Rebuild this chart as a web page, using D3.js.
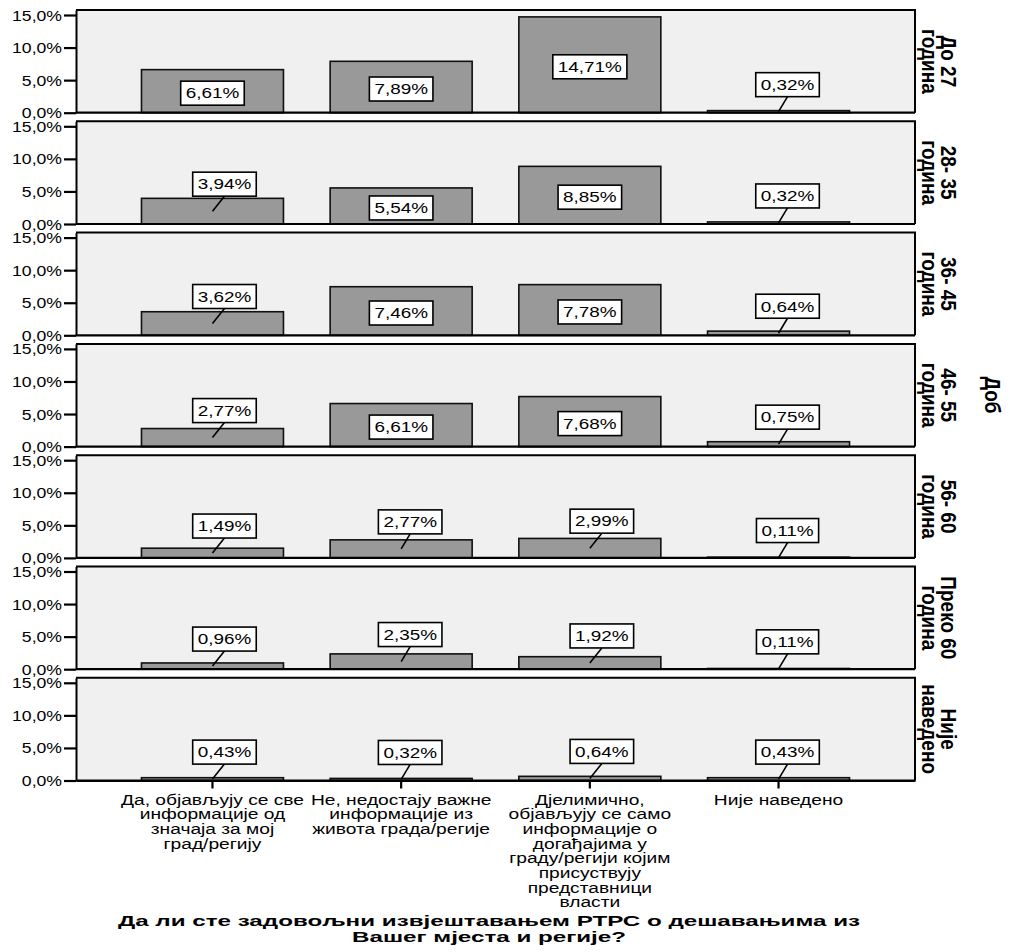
<!DOCTYPE html>
<html>
<head>
<meta charset="utf-8">
<script src="https://cdn.jsdelivr.net/npm/d3@7"></script>
<style>
  html, body { margin: 0; padding: 0; background: #ffffff; }
  svg { display: block; font-family: "Liberation Sans", Arial, sans-serif; }
</style>
</head>
<body>
<svg id="chart" width="1010" height="952"></svg>
<script>
// Response categories (x axis), one array of text lines per category
const categories = [
  "Да, објављују се све",
  "Не, недостају важне",
  "Дјелимично",
  "Није наведено"
];
const categoryLines = [
  ["Да, објављују се све", "информације од", "значаја за мој", "град/регију"],
  ["Не, недостају важне", "информације из", "живота града/регије"],
  ["Дјелимично,", "објављују се само", "информације о", "догађајима у", "граду/регији којим", "присуствују", "представници", "власти"],
  ["Није наведено"]
];

// Age groups (row panels) and their strip labels
const ageGroups = ["До 27 година", "28- 35 година", "36- 45 година", "46- 55 година", "56- 60 година", "Преко 60 година", "Није наведено"];
const ageLines = [
  ["До 27", "година"],
  ["28- 35", "година"],
  ["36- 45", "година"],
  ["46- 55", "година"],
  ["56- 60", "година"],
  ["Преко 60", "година"],
  ["Није", "наведено"]
];

// Percent of all respondents, per age group, in category order
const valuesUpTo27   = [6.61, 7.89, 14.71, 0.32];
const values28to35   = [3.94, 5.54, 8.85, 0.32];
const values36to45   = [3.62, 7.46, 7.78, 0.64];
const values46to55   = [2.77, 6.61, 7.68, 0.75];
const values56to60   = [1.49, 2.77, 2.99, 0.11];
const valuesOver60   = [0.96, 2.35, 1.92, 0.11];
const valuesNotGiven = [0.43, 0.32, 0.64, 0.43];
const panelValues = [valuesUpTo27, values28to35, values36to45, values46to55, values56to60, valuesOver60, valuesNotGiven];

const yTicks = [0, 5, 10, 15];
const titleLines = ["Да ли сте задовољни извјештавањем РТРС о дешавањима из", "Вашег мјеста и регије?"];
const facetTitle = "Доб";

// ---- layout ----
const left = 76, right = 915;
const firstTop = 10, panelH = 102.7, panelStep = 111.3;
const SX = 1.26;           // horizontal glyph stretch used for text
const comma = s => s.replace(".", ",");
const fmtVal = v => comma(d3.format(".2f")(v)) + "%";
const fmtTick = v => comma(d3.format(".1f")(v)) + "%";

const svg = d3.select("#chart");

const x = d3.scaleBand()
  .domain(categories)
  .range([left, right])
  .paddingInner(0.2475)
  .paddingOuter(0.347);

// stretched text helper
function stext(parent, px, py, str, opt) {
  const o = Object.assign({ size: 14, weight: "normal", anchor: "middle", sx: SX, rotate: 0 }, opt || {});
  const g = parent.append("g")
    .attr("transform", `translate(${px},${py}) scale(${o.sx},1)` + (o.rotate ? ` rotate(${o.rotate})` : ""));
  return g.append("text")
    .attr("text-anchor", o.anchor)
    .attr("font-size", o.size)
    .attr("font-weight", o.weight)
    .attr("fill", "#000")
    .text(str);
}

panelValues.forEach((vals, i) => {
  const top = firstTop + i * panelStep;
  const bottom = top + panelH;
  const y = d3.scaleLinear().domain([0, 15 * panelH / (panelH - 5)]).range([bottom, top]);
  const g = svg.append("g").attr("class", "panel");

  // panel background
  g.append("rect")
    .attr("x", left).attr("y", top)
    .attr("width", right - left).attr("height", bottom - top)
    .attr("fill", "#f0f0f0");

  // bars
  g.selectAll("rect.bar")
    .data(vals)
    .join("rect")
    .attr("class", "bar")
    .attr("x", (d, j) => x(categories[j]))
    .attr("y", d => y(d))
    .attr("width", x.bandwidth())
    .attr("height", d => y(0) - y(d))
    .attr("fill", "#999999")
    .attr("stroke", "#111")
    .attr("stroke-width", 1.6);

  // frame: top and right edges, baseline
  g.append("path")
    .attr("d", `M${left},${top}H${right}V${bottom}`)
    .attr("fill", "none").attr("stroke", "#000").attr("stroke-width", 2);
  g.append("line")
    .attr("x1", left).attr("x2", right).attr("y1", bottom).attr("y2", bottom)
    .attr("stroke", "#000").attr("stroke-width", 2.2);

  // y axis
  const ya = g.append("g")
    .attr("transform", `translate(${left},0)`)
    .call(d3.axisLeft(y).tickValues(yTicks).tickFormat(fmtTick).tickSize(12).tickSizeOuter(0));
  ya.select(".domain").attr("stroke", "#000").attr("stroke-width", 2);
  ya.selectAll(".tick line").attr("stroke", "#000").attr("stroke-width", 2.2);
  ya.selectAll(".tick text")
    .attr("x", -14 / SX)
    .attr("dy", "0.36em")
    .attr("font-size", 14)
    .attr("fill", "#000")
    .attr("font-family", "Liberation Sans, Arial, sans-serif")
    .attr("transform", `scale(${SX},1)`);

  // value labels
  vals.forEach((v, j) => {
    const cx = x(categories[j]) + x.bandwidth() / 2;
    const barTop = y(v), barH = y(0) - y(v);
    const mid = barTop + barH / 2;
    const lg = g.append("g");
    const txt = stext(lg, 0, 0, fmtVal(v), { size: 15 });
    const tw = txt.node().getComputedTextLength() * SX;
    const bw = tw + 10, bh = 24;
    let bx, by;
    if (barH >= 30) {
      bx = cx; by = mid + 2;            // label sits inside the bar
    } else {
      bx = cx + (j % 2 === 0 ? 12 : 9); // label above the bar with a leader
      by = mid - 15 - bh / 2;
      lg.insert("line", ":first-child")
        .attr("x1", bx).attr("y1", by + bh / 2)
        .attr("x2", cx).attr("y2", mid)
        .attr("stroke", "#000").attr("stroke-width", 1.6);
    }
    lg.insert("rect", "g")
      .attr("x", bx - bw / 2).attr("y", by - bh / 2)
      .attr("width", bw).attr("height", bh)
      .attr("fill", "#fff").attr("stroke", "#000").attr("stroke-width", 1.6);
    txt.node().parentNode.setAttribute("transform", `translate(${bx},${by + 5.3}) scale(${SX},1)`);
  });

  // strip label on the right
  const cy = (top + bottom) / 2;
  stext(g, 941, cy, ageLines[i][0], { size: 19, weight: "bold", rotate: 90, sx: 1.12 });
  stext(g, 922, cy, ageLines[i][1], { size: 19, weight: "bold", rotate: 90, sx: 1.12 });

  // x axis on the last panel
  if (i === panelValues.length - 1) {
    const xa = svg.append("g")
      .attr("transform", `translate(0,${bottom})`)
      .call(d3.axisBottom(x).tickSize(8).tickSizeOuter(0).tickFormat(""));
    xa.select(".domain").attr("stroke", "#000").attr("stroke-width", 2.2);
    xa.selectAll(".tick line").attr("stroke", "#000").attr("stroke-width", 2.2);

    categories.forEach((c, j) => {
      const cx = x(c) + x.bandwidth() / 2;
      categoryLines[j].forEach((line, k) => {
        stext(svg, cx, 804.5 + k * 14.7, line, { size: 14, sx: 1.37 });
      });
    });
  }
});

// facet title
stext(svg, 985, 395, facetTitle, { size: 19, weight: "bold", rotate: 90, sx: 1.12 });

// x axis title
titleLines.forEach((t, k) => {
  stext(svg, 489, 925.5 + k * 16.5, t, { size: 15.5, weight: "bold", sx: 1.56 });
});
</script>
</body>
</html>
